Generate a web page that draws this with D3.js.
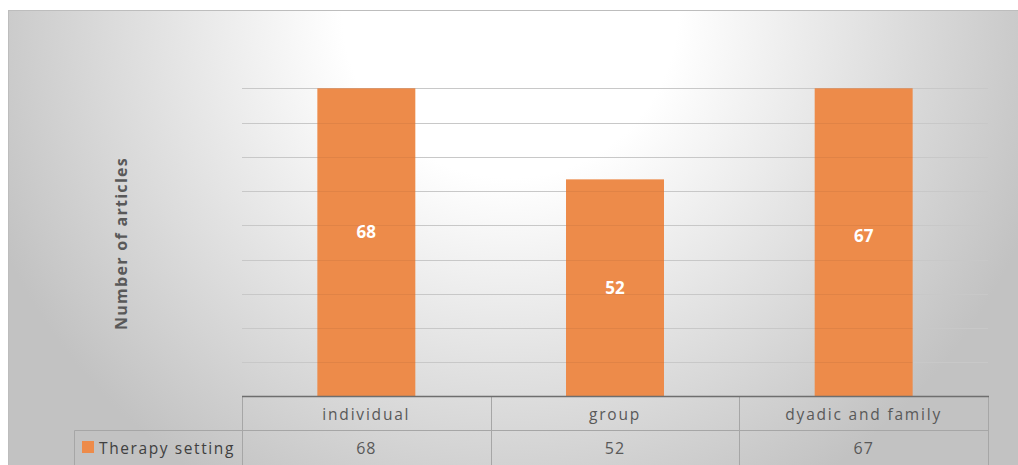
<!DOCTYPE html>
<html><head><meta charset="utf-8">
<script src="https://cdn.jsdelivr.net/npm/d3@7"></script>
<style>body{margin:0;background:#fff;overflow:hidden} svg{display:block}</style>
</head><body>
<script>
const categories = ["individual", "group", "dyadic and family"];
const seriesName = "Therapy setting";
const values = [68, 52, 67];
const yDomain = [21, 65];
const gridCount = 9;
const yTitle = "Number of articles";

const W = 1018, H = 465;
const barColor = "#ed8b4a";
const font = "'Open Sans', 'Liberation Sans', sans-serif";

const svg = d3.select("body").append("svg").attr("width", W).attr("height", H);
const defs = svg.append("defs");
const rg = defs.append("radialGradient").attr("id", "bg")
  .attr("gradientUnits", "userSpaceOnUse")
  .attr("cx", 510).attr("cy", 10).attr("r", 560);
rg.append("stop").attr("offset", 0).attr("stop-color", "#ffffff");
rg.append("stop").attr("offset", 0.3).attr("stop-color", "#ffffff");
rg.append("stop").attr("offset", 1).attr("stop-color", "#c2c2c2");

svg.append("rect").attr("x", 8.5).attr("y", 10.5)
  .attr("width", W).attr("height", H)
  .attr("fill", "url(#bg)").attr("stroke", "#bdbdbd");

const plot = { left: 242, right: 988, top: 88.3, bottom: 396.5 };
const x = d3.scaleBand().domain(categories).range([plot.left, plot.right])
  .paddingInner(0.606).paddingOuter(0.303);
const y = d3.scaleLinear().domain(yDomain).range([plot.bottom, plot.top]);
const gridVals = d3.range(1, gridCount + 1).map(i => yDomain[0] + i * (yDomain[1] - yDomain[0]) / gridCount);

const px = v => Math.round(v) + 0.5;

// gridlines
const drawGrid = (color, op) => svg.append("g").selectAll("line").data(gridVals).join("line")
  .attr("x1", plot.left).attr("x2", plot.right)
  .attr("y1", d => px(y(d))).attr("y2", d => px(y(d)))
  .attr("stroke", color).attr("stroke-opacity", op).attr("stroke-width", 1);
drawGrid("#d3d3d3", 1);

// bars (clipped at axis max)
svg.append("g").selectAll("rect").data(values).join("rect")
  .attr("x", (d, i) => x(categories[i]))
  .attr("width", x.bandwidth())
  .attr("y", d => y(Math.min(d, yDomain[1])))
  .attr("height", d => plot.bottom - y(Math.min(d, yDomain[1])))
  .attr("fill", barColor);
// faint gridlines showing through bars
drawGrid("#000", 0.05);

// value labels inside bars
svg.append("g").selectAll("text").data(values).join("text")
  .attr("x", (d, i) => x(categories[i]) + x.bandwidth() / 2)
  .attr("y", d => (plot.bottom + y(d)) / 2)
  .attr("text-anchor", "middle").attr("dominant-baseline", "central")
  .attr("fill", "#ffffff").attr("font-family", font)
  .attr("font-weight", "bold").attr("font-size", 17)
  .text(d => d);

// y-axis title
svg.append("text")
  .attr("transform", "translate(121,243.5) rotate(-90)")
  .attr("text-anchor", "middle").attr("dominant-baseline", "central")
  .attr("fill", "#595959").attr("font-family", font)
  .attr("font-weight", "bold").attr("font-size", 16)
  .attr("letter-spacing", 1.3)
  .text(yTitle);

// data table
const step = x.step();
const row1 = [396.5, 430.5], row2 = [430.5, 470];
const table = svg.append("g");
const lineC = "#a6a6a6";
table.append("line").attr("x1", 74.5).attr("x2", plot.right + 0.5)
  .attr("y1", row2[0]).attr("y2", row2[0]).attr("stroke", lineC);
const colEdges = d3.range(categories.length + 1).map(i => plot.left + i * step);
table.selectAll("line.v").data(colEdges).join("line").attr("class", "v")
  .attr("x1", d => px(d)).attr("x2", d => px(d))
  .attr("y1", row1[0]).attr("y2", H).attr("stroke", lineC);
table.append("line").attr("x1", 74.5).attr("x2", 74.5)
  .attr("y1", row2[0]).attr("y2", H).attr("stroke", lineC);
table.append("line").attr("x1", plot.left).attr("x2", plot.right + 1)
  .attr("y1", plot.bottom).attr("y2", plot.bottom)
  .attr("stroke", "#6e6e6e").attr("stroke-width", 1.5);

// category labels
table.selectAll("text.cat").data(categories).join("text").attr("class", "cat")
  .attr("x", d => x(d) + x.bandwidth() / 2)
  .attr("y", (row1[0] + row1[1]) / 2)
  .attr("text-anchor", "middle").attr("dominant-baseline", "central")
  .attr("fill", "#595959").attr("font-family", font).attr("font-size", 15.5)
  .attr("letter-spacing", 1.8)
  .text(d => d);

// values row
table.selectAll("text.val").data(values).join("text").attr("class", "val")
  .attr("x", (d, i) => x(categories[i]) + x.bandwidth() / 2)
  .attr("y", 448)
  .attr("text-anchor", "middle").attr("dominant-baseline", "central")
  .attr("fill", "#595959").attr("font-family", font).attr("font-size", 16)
  .attr("letter-spacing", 1)
  .text(d => d);

// legend key + series name
table.append("rect").attr("x", 82).attr("y", 441).attr("width", 12).attr("height", 12)
  .attr("fill", barColor);
table.append("text").attr("x", 99).attr("y", 448)
  .attr("dominant-baseline", "central")
  .attr("fill", "#404040").attr("font-family", font).attr("font-size", 15.5)
  .attr("letter-spacing", 1.6)
  .text(seriesName);
</script>
</body></html>
